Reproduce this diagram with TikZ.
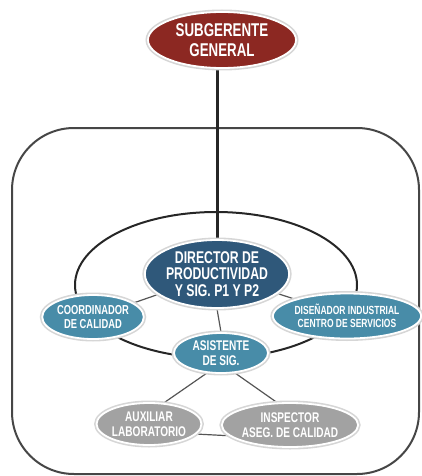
\documentclass[tikz,border=0pt]{standalone}
\usepackage{fontspec}
\newfontfamily\nodefont{Liberation Sans}[FakeStretch=0.72]
\usetikzlibrary{shapes.geometric,backgrounds}

\definecolor{headred}{RGB}{140,40,34}
\definecolor{dirblue}{RGB}{47,88,122}
\definecolor{staffteal}{RGB}{72,140,168}
\definecolor{supgray}{RGB}{162,162,162}
\definecolor{framegray}{RGB}{70,70,70}
\definecolor{linkgray}{RGB}{85,85,85}

\tikzset{
  unit/.style={ellipse, inner sep=0pt, align=center, text=white,
    draw=white, line width=1.8pt,
    preaction={draw=black!16, line width=5pt}},
  head/.style={unit, fill=headred},
  director/.style={unit, fill=dirblue},
  staff/.style={unit, fill=staffteal},
  support/.style={unit, fill=supgray},
  txt/.style 2 args={font=\nodefont\bfseries\fontsize{#1}{#2}\selectfont},
  link/.style={draw=linkgray, line width=1.2pt},
  frame/.style={draw=framegray, line width=2pt},
  ring/.style={draw=black!85, line width=2pt},
  trunk/.style={draw=black!85, line width=3pt}
}

\begin{document}
\begin{tikzpicture}[x=1pt, y=-1pt]
  \useasboundingbox (0,0) rectangle (422,476);

  % units
  \node[head, txt={18.5}{20}, minimum width=148pt, minimum height=56pt] (sub) at (222,40)
    {SUBGERENTE\\GENERAL};
  \node[director, txt={17}{16.5}, minimum width=136pt, minimum height=68pt] (dir) at (217,274)
    {DIRECTOR DE\\PRODUCTIVIDAD\\Y SIG. P1 Y P2};
  \node[staff, txt={13}{14}, minimum width=86pt, minimum height=44pt] (coord) at (93,317)
    {COORDINADOR\\DE CALIDAD};
  \node[staff, txt={11.8}{13}, minimum width=124pt, minimum height=45pt] (dis) at (347,316)
    {DISEÑADOR INDUSTRIAL\\CENTRO DE SERVICIOS};
  \node[staff, txt={14}{14.5}, minimum width=94pt, minimum height=40pt] (asis) at (221,353)
    {ASISTENTE\\DE SIG.};
  \node[support, txt={14}{15}, minimum width=94pt, minimum height=42pt] (aux) at (149,424)
    {AUXILIAR\\LABORATORIO};
  \node[support, txt={14}{15}, minimum width=114pt, minimum height=44pt] (insp) at (290,425)
    {INSPECTOR\\ASEG. DE CALIDAD};

  \begin{pgfonlayer}{background}
    % outer frame and inner ring
    \draw[frame, rounded corners=62pt] (12,128) rectangle (419,474);
    \draw[ring] (216,285) ellipse [x radius=141pt, y radius=73pt];
    % connectors
    \draw[trunk] (dir.north |- sub.south) -- (dir.north);
    \draw[link] (dir) -- (coord);
    \draw[link] (dir) -- (dis);
    \draw[link] (dir.south) -- (asis.north);
    \draw[link] (asis.235) -- (aux.55);
    \draw[link] (asis.305) -- (insp.120);
    \draw[link] (aux.348) -- (insp.190);
  \end{pgfonlayer}
\end{tikzpicture}
\end{document}
